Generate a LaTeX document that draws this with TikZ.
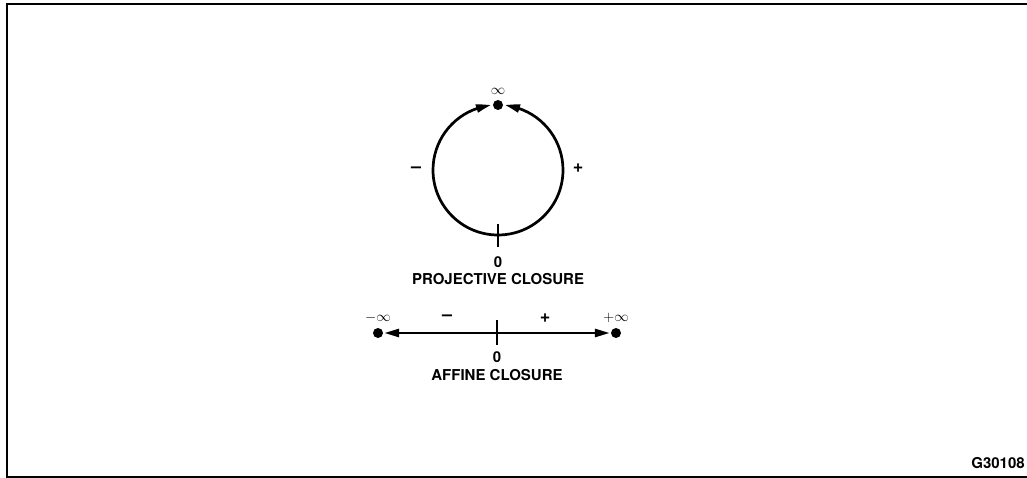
\documentclass[tikz,border=0pt]{standalone}
\usepackage{fontspec}
\setmainfont{TeX Gyre Heros}
\usetikzlibrary{arrows.meta,bending}
\begin{document}
\begin{tikzpicture}[x=1pt,y=-1pt,
  lbl/.style={font=\bfseries\fontsize{15}{17}\selectfont, inner sep=0pt},
  sgn/.style={font=\bfseries\fontsize{18}{20}\selectfont, inner sep=0pt},
  sym/.style={font=\fontsize{15}{17}\selectfont, inner sep=0pt},
  dotnode/.style={circle, fill=black, inner sep=0pt, minimum size=10pt},
  line/.style={line width=2.7pt},
  tip/.style={-{Triangle[length=15pt,width=8pt,bend]}}]
\useasboundingbox (0,0) rectangle (1027,478);
\draw[line width=2.6pt] (1030,4) -- (7,4) -- (7,477) -- (1030,477);
% projective closure
\coordinate (c) at (498,170);
\node[dotnode] (inf) at (498,105) {};
\node[sym] (inflbl) at (498,91) {$\infty$};
\draw[line, tip] (498,235) arc[start angle=90, end angle=-84, radius=65];
\draw[line, tip] (498,235) arc[start angle=90, end angle=264, radius=65];
\coordinate (t1) at (498,224);
\coordinate (t2) at (498,247);
\draw[line] (t1) -- (t2);
\node[sgn] (mneg) at (416,170) {\textendash};
\node[sgn] (mpos) at (578,168) {+};
\node[lbl] (z1) at (498,262) {0};
\node[lbl] (pc) at (498,279) {PROJECTIVE CLOSURE};
% affine closure
\node[dotnode] (ln) at (378,333) {};
\node[dotnode] (rn) at (616,333) {};
\coordinate (mid) at (497,333);
\draw[line, -{Triangle[length=15pt,width=8pt]}, shorten >=1pt] (mid) -- (ln);
\draw[line, -{Triangle[length=15pt,width=8pt]}, shorten >=1pt] (mid) -- (rn);
\coordinate (u1) at (497,320);
\coordinate (u2) at (497,345);
\draw[line] (u1) -- (u2);
\node[sym] (lninf) at (378,318) {$-\infty$};
\node[sym] (rninf) at (616,318) {$+\infty$};
\node[sgn] (aneg) at (447,318) {\textendash};
\node[sgn] (apos) at (545,318) {+};
\node[lbl] (z2) at (497,357) {0};
\node[lbl] (ac) at (497,375) {AFFINE CLOSURE};
\node[lbl] (fig) at (998,463) {G30108};
\end{tikzpicture}
\end{document}
